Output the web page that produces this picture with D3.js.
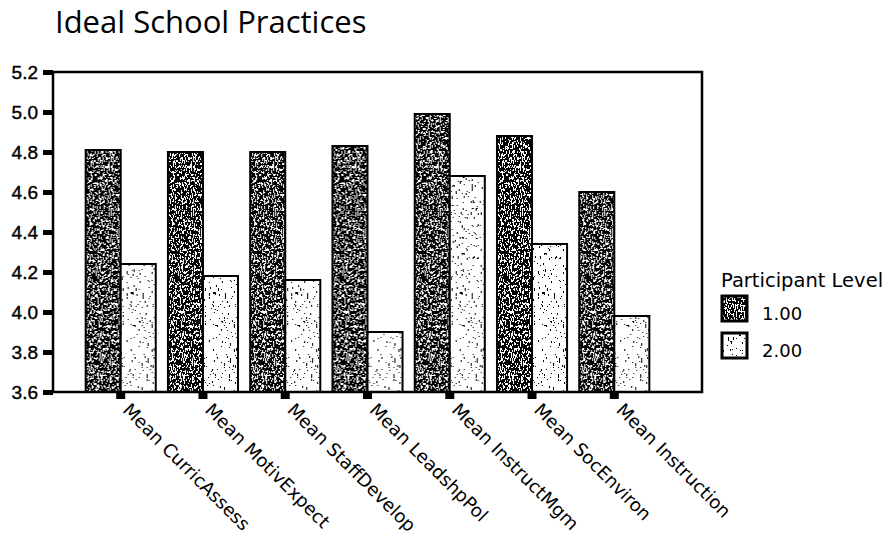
<!DOCTYPE html>
<html>
<head>
<meta charset="utf-8">
<script src="https://cdn.jsdelivr.net/npm/d3@7"></script>
<style>
  html, body { margin: 0; padding: 0; background: #fff; }
  svg { display: block; }
</style>
</head>
<body>
<div id="chart"></div>
<script>
// ---- data ----
const categories = ["Mean CurricAssess", "Mean MotivExpect", "Mean StaffDevelop", "Mean LeadshpPol", "Mean InstructMgm", "Mean SocEnviron", "Mean Instruction"];
const seriesNames = ["1.00", "2.00"];
const level1 = [4.81, 4.80, 4.80, 4.83, 4.99, 4.88, 4.60];
const level2 = [4.24, 4.18, 4.16, 3.90, 4.68, 4.34, 3.98];
const yTicks = [3.6, 3.8, 4.0, 4.2, 4.4, 4.6, 4.8, 5.0, 5.2];
const titleText = "Ideal School Practices";
const legendTitle = "Participant Level";

// ---- layout ----
const W = 894, H = 541;
const plot = { left: 53, top: 72, right: 702, bottom: 392 };

const svg = d3.select("#chart").append("svg").attr("width", W).attr("height", H);

// textures
const defs = svg.append("defs");
function texture(id, cutoff, freq, seed) {
  const f = defs.append("filter").attr("id", "f" + id)
    .attr("x", 0).attr("y", 0).attr("width", 1).attr("height", 1)
    .attr("color-interpolation-filters", "sRGB");
  f.append("feTurbulence").attr("type", "fractalNoise").attr("baseFrequency", freq)
    .attr("numOctaves", 3).attr("seed", seed).attr("result", "n");
  f.append("feColorMatrix").attr("in", "n").attr("type", "matrix")
    .attr("values", "0 0 0 0 0  0 0 0 0 0  0 0 0 0 0  1 0 0 0 0").attr("result", "na");
  const table = d3.range(20).map(i => (i < cutoff ? 1 : 0)).join(" ");
  f.append("feComponentTransfer").attr("in", "na").attr("result", "b")
    .append("feFuncA").attr("type", "discrete").attr("tableValues", table);
  f.append("feFlood").attr("flood-color", "#ffffff").attr("result", "w");
  const m = f.append("feMerge");
  m.append("feMergeNode").attr("in", "w");
  m.append("feMergeNode").attr("in", "b");
  const p = defs.append("pattern").attr("id", "p" + id)
    .attr("patternUnits", "userSpaceOnUse").attr("width", W).attr("height", H);
  p.append("rect").attr("width", W).attr("height", H).attr("fill", "#fff")
    .attr("filter", `url(#f${id})`);
}
texture("Dark", 11, "0.9 0.35", 5);
texture("Light", 6, "0.8 0.25", 11);
const fills = { "1.00": "url(#pDark)", "2.00": "url(#pLight)" };

// scales
const y = d3.scaleLinear().domain([3.6, 5.2]).range([plot.bottom, plot.top]);
const x = d3.scaleBand().domain(categories).range([47, 688]).paddingInner(0.148).paddingOuter(0.47);
const xs = d3.scaleBand().domain(seriesNames).range([0, x.bandwidth()]);

const rows = categories.map((c, i) => ({ cat: c, vals: [
  { s: seriesNames[0], v: level1[i] },
  { s: seriesNames[1], v: level2[i] }
]}));

// bars
const g = svg.append("g");
g.selectAll("g.grp").data(rows).join("g").attr("class", "grp")
  .attr("transform", d => `translate(${x(d.cat)},0)`)
  .selectAll("rect").data(d => d.vals).join("rect")
  .attr("x", d => xs(d.s))
  .attr("y", d => y(d.v))
  .attr("width", xs.bandwidth())
  .attr("height", d => y(3.6) - y(d.v))
  .attr("fill", d => fills[d.s])
  .attr("stroke", "#000").attr("stroke-width", 2);

// frame
svg.append("rect").attr("x", plot.left).attr("y", plot.top)
  .attr("width", plot.right - plot.left).attr("height", plot.bottom - plot.top)
  .attr("fill", "none").attr("stroke", "#000").attr("stroke-width", 2.5);

// y axis
const yAxis = svg.append("g").attr("transform", `translate(${plot.left},0)`)
  .call(d3.axisLeft(y).tickValues(yTicks).tickFormat(d3.format(".1f")).tickSize(10).tickPadding(5));
yAxis.select(".domain").remove();
yAxis.selectAll(".tick line").attr("stroke", "#000").attr("stroke-width", 5);
yAxis.selectAll(".tick text")
  .attr("font-family", "'Liberation Sans', Arial, sans-serif")
  .attr("font-size", 19).attr("fill", "#000")
  .attr("stroke", "#000").attr("stroke-width", 0.4);

// x axis
const xAxis = svg.append("g").attr("transform", `translate(0,${plot.bottom})`)
  .call(d3.axisBottom(x).tickSize(7));
xAxis.select(".domain").remove();
xAxis.selectAll(".tick line").attr("stroke", "#000").attr("stroke-width", 9);
xAxis.selectAll(".tick text")
  .attr("y", 0).attr("dy", 0)
  .attr("transform", "translate(1,19) rotate(45)")
  .attr("text-anchor", "start")
  .attr("font-family", "'DejaVu Sans', Verdana, sans-serif")
  .attr("font-size", 18.2).attr("fill", "#000");

// title
svg.append("text").attr("x", 55).attr("y", 33)
  .attr("font-family", "'Open Sans', sans-serif").attr("font-size", 31)
  .attr("fill", "#000").text(titleText);

// legend
const lg = svg.append("g").attr("transform", "translate(721,0)");
lg.append("text").attr("x", 0).attr("y", 287)
  .attr("font-family", "'DejaVu Sans', Verdana, sans-serif").attr("font-size", 19.5)
  .attr("fill", "#000").text(legendTitle);
const li = lg.selectAll("g.item").data(seriesNames).join("g").attr("class", "item")
  .attr("transform", (d, i) => `translate(0,${296 + i * 37})`);
li.append("rect").attr("x", 1).attr("y", 0).attr("width", 25).attr("height", 25)
  .attr("fill", d => fills[d]).attr("stroke", "#000").attr("stroke-width", 3);
li.append("text").attr("x", 41).attr("y", 24)
  .attr("font-family", "'DejaVu Sans', Verdana, sans-serif").attr("font-size", 18)
  .attr("fill", "#000").text(d => d);
</script>
</body>
</html>
